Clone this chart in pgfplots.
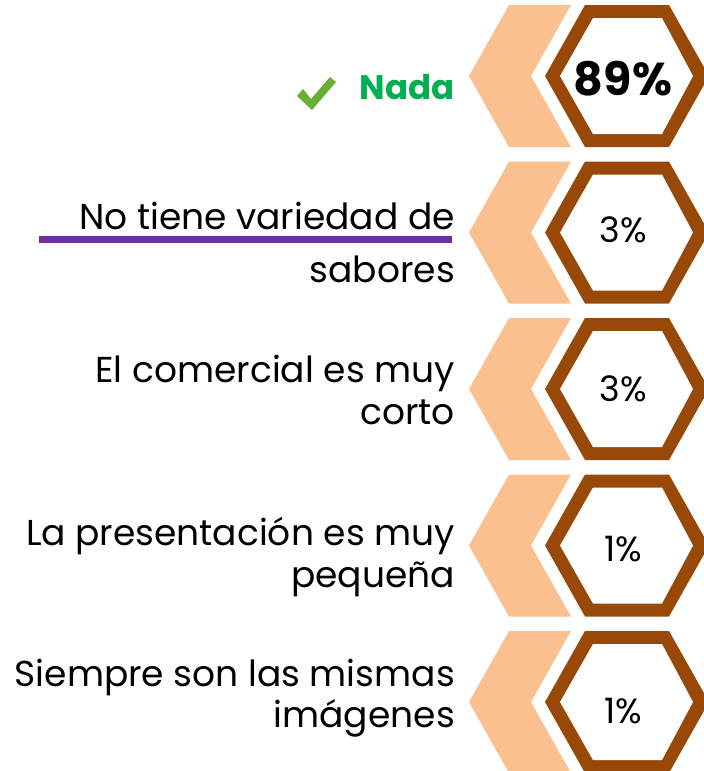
\documentclass[border=0pt]{standalone}
\usepackage{pgfplots}
\pgfplotsset{compat=1.18}
\usepackage{pgfplotstable}
\usepackage{fontspec}
\setmainfont{Poppins}
\definecolor{peach}{HTML}{FAC090}
\definecolor{hexbrown}{HTML}{984807}
\definecolor{nadagreen}{HTML}{00B050}
\definecolor{checkgreen}{HTML}{6AAF35}
\definecolor{linepurple}{HTML}{7030A0}

% shapes around a row centre (y = 0)
\pgfplotstableread{
x y
509 -71
571 -71
531 0
571 71
509 71
469 0
}\chevron
\pgfplotstableread{
x y
585 -71
669 -71
709 0
669 71
585 71
545 0
}\hexouter
\pgfplotstableread{
x y
593 -58
662 -58
693 0
662 58
593 58
560 0
}\hexinner

% values
\pgfplotstableread{
x y label
623 230 3\%
623 389 3\%
623 549 1\%
623 711 1\%
}\values

\begin{document}
\begin{tikzpicture}
\begin{axis}[
    width=704pt, height=771pt,
    scale only axis,
    xmin=0, xmax=704, ymin=0, ymax=771,
    y dir=reverse,
    axis lines=none,
    clip=true,
]
\pgfplotsinvokeforeach{0,1,2,3,4}{
  \addplot[fill=peach, draw=none] table[y expr=\thisrow{y}+76+156.5*#1] {\chevron} --cycle;
  \addplot[fill=hexbrown, draw=none] table[y expr=\thisrow{y}+76+156.5*#1] {\hexouter} --cycle;
  \addplot[fill=white, draw=none] table[y expr=\thisrow{y}+76+156.5*#1] {\hexinner} --cycle;
}
% bold top value
\addplot[mark=none, draw=none, nodes near coords, point meta=explicit symbolic,
  every node near coord/.append style={anchor=center, font=\fontsize{46}{46}\selectfont\bfseries, black}]
  coordinates {(623,79) [89\%]};
\addplot[mark=none, draw=none, nodes near coords, point meta=explicit symbolic,
  every node near coord/.append style={anchor=center, font=\fontsize{35}{35}\selectfont, black}]
  table[meta=label] {\values};
% purple underline
\addplot[linepurple, line width=7pt, mark=none] coordinates {(39,239.5) (452,239.5)};
% check mark
\addplot[fill=checkgreen, draw=none] coordinates {(297,96) (303,89) (311,99) (330,77) (336,82) (312,110)} --cycle;

\begin{scope}[every node/.style={anchor=base east, inner sep=0pt, font=\fontsize{36}{36}\selectfont}]
\node[text=nadagreen, font=\fontsize{34}{34}\selectfont\bfseries] at (axis cs:455,99) {Nada};
\node at (axis cs:455,229) {No tiene variedad de};
\node at (axis cs:455,282) {sabores};
\node at (axis cs:455,382) {El comercial es muy};
\node at (axis cs:455,424) {corto};
\node at (axis cs:455,545) {La presentación es muy};
\node at (axis cs:455,587) {pequeña};
\node at (axis cs:455,686) {Siempre son las mismas};
\node at (axis cs:455,727) {imágenes};
\end{scope}
\end{axis}
\pgfresetboundingbox
\useasboundingbox (current axis.south west) rectangle (current axis.north east);
\end{tikzpicture}
\end{document}
